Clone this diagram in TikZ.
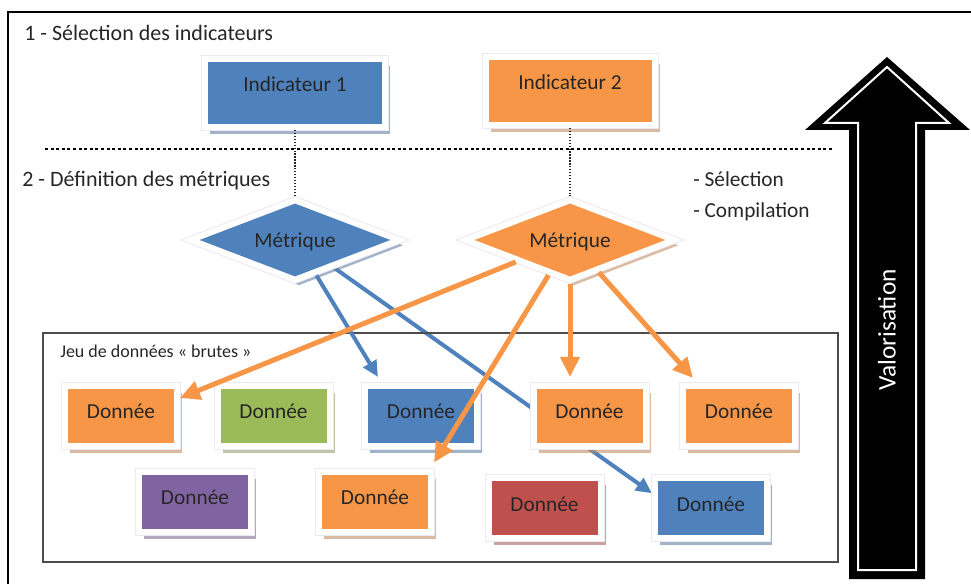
\documentclass[tikz,border=0pt]{standalone}
\usepackage{fontspec}
\setmainfont{Carlito}
\usetikzlibrary{shapes.geometric,arrows.meta,shadows,backgrounds}
\definecolor{bleu}{HTML}{4F81BD}
\definecolor{orangeo}{HTML}{F79646}
\definecolor{vert}{HTML}{9BBB59}
\definecolor{mauve}{HTML}{8064A2}
\definecolor{rouge}{HTML}{C0504D}
\definecolor{rim}{HTML}{ECE9F2}
\definecolor{texte}{HTML}{262626}
\begin{document}
\begin{tikzpicture}[x=0.75pt, y=-0.75pt,
  font=\fontsize{16}{19}\selectfont, text=texte,
  boite/.style={rectangle, fill=#1, draw=white, line width=4.5pt, inner sep=0pt,
    drop shadow={shadow xshift=3.75pt, shadow yshift=-5.25pt, fill=#1!55!gray, opacity=.6},
    preaction={draw=rim, line width=6pt}},
  indic/.style={boite=#1, minimum height=51pt, text height=8pt, text depth=9.5pt},
  donnee/.style={boite=#1, minimum width=84pt, minimum height=45pt, text height=10pt, text depth=5.5pt},
  metrique/.style={diamond, aspect=2.57, fill=#1, draw=white, line width=4.5pt, inner sep=0pt,
    minimum width=158pt, minimum height=61.5pt, text height=14pt, text depth=2pt,
    drop shadow={shadow xshift=3pt, shadow yshift=-4pt, fill=#1!55!gray, opacity=.6},
    preaction={draw=rim, line width=6pt}},
  lienor/.style={draw=orangeo, line width=3.75pt, -{Triangle[length=15pt,width=14pt]}},
  lienbl/.style={draw=bleu, line width=3pt, -{Triangle[length=12pt,width=11pt]}},
  pointille/.style={draw=texte, line width=1pt, dash pattern=on 1pt off 1.2pt}]
\useasboundingbox (0,0) rectangle (971,584);
\draw[line width=1.9pt] (8,584) -- (8,12) -- (971,12);
\draw[draw=black!70, line width=1.1pt] (43,333) rectangle (838,562);
\draw[line width=2pt, dash pattern=on 2.2pt off 2pt] (45,149) -- (833,149);

\node (t1) at (24,40.5) [anchor=base west, inner sep=0pt, font=\fontsize{16.5}{19}\selectfont] {1 - Sélection des indicateurs};
\node (t2) at (22,187) [anchor=base west, inner sep=0pt, font=\fontsize{16.5}{19}\selectfont] {2 - Définition des métriques};
\node (t3) at (693,187) [anchor=base west, inner sep=0pt] {- Sélection};
\node (t4) at (693,218) [anchor=base west, inner sep=0pt] {- Compilation};
\node (t5) at (60,358) [anchor=base west, inner sep=0pt, font=\fontsize{13.5}{16}\selectfont] {Jeu de données « brutes »};

\fill (887,57) -- (970,130) -- (925,130) -- (925,579) -- (849,579) -- (849,130) -- (805,130) -- cycle;
\draw[white, line width=1.5pt] (887,67) -- (949,123) -- (916,123) -- (916,570) -- (858,570) -- (858,123) -- (825,123) -- cycle;
\node (valo) at (887,330) [rotate=90, text=white, font=\fontsize{19}{22}\selectfont] {Valorisation};

\node (ind1) at (295,93) [indic=bleu, minimum width=135pt] {Indicateur 1};
\node (ind2) at (570,91) [indic=orangeo, minimum width=126.75pt] {Indicateur 2};
\node (m1) at (295,240) [metrique=bleu] {Métrique};
\node (m2) at (570,240) [metrique=orangeo] {Métrique};
\node (d1) at (121,416) [donnee=orangeo] {Donnée};
\node (d2) at (273.5,416) [donnee=vert] {Donnée};
\node (d3) at (421,416) [donnee=bleu] {Donnée};
\node (d4) at (589.5,416) [donnee=orangeo] {Donnée};
\node (d5) at (739,416) [donnee=orangeo] {Donnée};
\node (d6) at (195,501.5) [donnee=mauve] {Donnée};
\node (d7) at (375,501.5) [donnee=orangeo] {Donnée};
\node (d8) at (544.5,508) [donnee=rouge] {Donnée};
\node (d9) at (711,508) [donnee=bleu] {Donnée};
\coordinate (p4) at (m2 |- d4.north);

\draw[pointille] (ind1) -- (m1);
\draw[pointille] (ind2) -- (m2);
\begin{scope}[on background layer]
\draw[lienbl] (m1) -- (d9.166);
\end{scope}
\draw[lienbl] (m1) -- ([shift={(16,-6)}]d3.north west);
\draw[lienor] (m2) -- (d1.17);
\draw[lienor] (m2) -- ([shift={(0,-6)}]d7.north east);
\draw[lienor] (m2) -- ([yshift=4.5pt]p4);
\draw[lienor] (m2) -- ([shift={(13,-5)}]d5.north west);
\end{tikzpicture}
\end{document}
